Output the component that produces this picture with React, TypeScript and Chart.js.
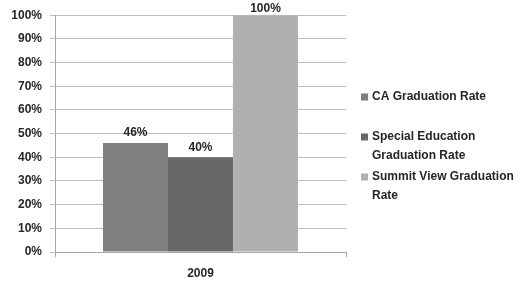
import React, { useEffect, useRef } from "react";
import { Chart, registerables } from "chart.js";

Chart.register(...registerables);

const categories = ["2009"];
const seriesNames = ["CA Graduation Rate", "Special Education Graduation Rate", "Summit View Graduation Rate"];
const seriesValues = [[46], [40], [100]];
const seriesColors = ["#7f7f7f", "#686868", "#b0b0b0"];
const yTicks = [0, 10, 20, 30, 40, 50, 60, 70, 80, 90, 100];

const FONT = "bold 12px 'Liberation Sans', Arial, sans-serif";
const TEXT = "#262626";

const valueLabels = {
  id: "valueLabels",
  afterDatasetsDraw(chart: any) {
    const ctx = chart.ctx;
    ctx.save();
    ctx.font = FONT;
    ctx.fillStyle = TEXT;
    ctx.textAlign = "center";
    ctx.textBaseline = "middle";
    chart.data.datasets.forEach((ds: any, i: number) => {
      const meta = chart.getDatasetMeta(i);
      meta.data.forEach((bar: any, j: number) => {
        const y = Math.max(bar.y - 10, 9);
        ctx.fillText(ds.data[j] + "%", bar.x, y);
      });
    });
    ctx.restore();
  },
};

const sideLegend = {
  id: "sideLegend",
  afterDraw(chart: any) {
    const ctx = chart.ctx;
    ctx.save();
    ctx.font = FONT;
    ctx.textBaseline = "middle";
    ctx.textAlign = "left";
    const boxX = 361;
    const textX = 372;
    const maxW = 160;
    const lineH = 19;
    chart.data.datasets.forEach((ds: any, i: number) => {
      const y0 = 97 + i * 40;
      ctx.fillStyle = ds.backgroundColor;
      ctx.fillRect(boxX, y0 - 3.5, 7, 7);
      const words = String(ds.label).split(" ");
      const lines: string[] = [];
      let cur = "";
      words.forEach((w) => {
        const t = cur ? cur + " " + w : w;
        if (ctx.measureText(t).width > maxW && cur) {
          lines.push(cur);
          cur = w;
        } else cur = t;
      });
      if (cur) lines.push(cur);
      ctx.fillStyle = TEXT;
      lines.forEach((l, k) => ctx.fillText(l, textX, y0 + k * lineH));
    });
    ctx.restore();
  },
};

export default function App() {
  const ref = useRef<HTMLCanvasElement>(null);
  useEffect(() => {
    document.body.style.margin = "0";
    const chart = new Chart(ref.current!, {
      type: "bar",
      data: {
        labels: categories,
        datasets: seriesNames.map((n, i) => ({
          label: n,
          data: seriesValues[i],
          backgroundColor: seriesColors[i],
          borderWidth: 0,
          categoryPercentage: 0.67,
          barPercentage: 1,
        })),
      },
      options: {
        animation: false,
        responsive: false,
        layout: { padding: { left: 0, top: 13, right: 178, bottom: 0 } },
        plugins: { legend: { display: false }, tooltip: { enabled: false } },
        scales: {
          x: {
            afterFit: (s: any) => { s.height = 36; },
            grid: { display: true, drawOnChartArea: false, tickLength: 5, color: "#a6a6a6" },
            border: { color: "#a6a6a6" },
            ticks: { font: { family: "'Liberation Sans', Arial, sans-serif", size: 12, weight: "bold" }, color: TEXT, padding: 9 },
          },
          y: {
            min: 0,
            max: 100,
            afterFit: (s: any) => { s.width = 55; },
            afterBuildTicks: (s: any) => { s.ticks = yTicks.map((v) => ({ value: v })); },
            grid: { color: "#bdbdbd", tickLength: 5 },
            border: { color: "#a6a6a6" },
            ticks: {
              font: { family: "'Liberation Sans', Arial, sans-serif", size: 12, weight: "bold" },
              color: TEXT,
              padding: 8,
              callback: (v: any) => v + "%",
            },
          },
        },
      },
      plugins: [valueLabels, sideLegend],
    });
    return () => chart.destroy();
  }, []);
  return <canvas ref={ref} width={524} height={288} style={{ display: "block" }} />;
}
